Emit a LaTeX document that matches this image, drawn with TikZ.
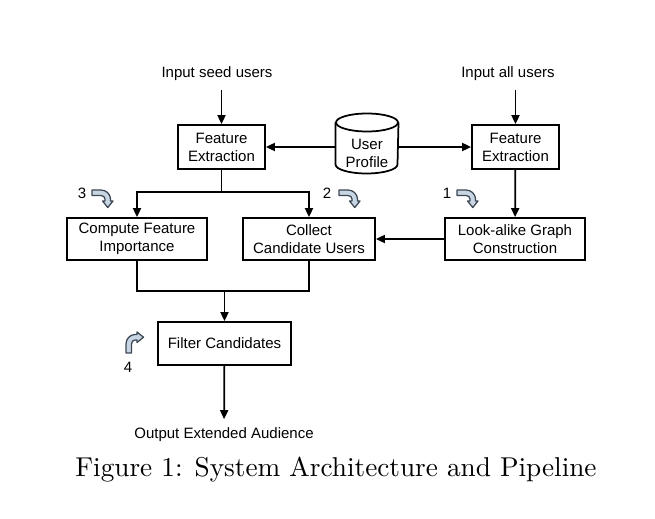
\documentclass[tikz,border=0pt]{standalone}
\usepackage{fontspec}
\newfontfamily\diagfont{Liberation Sans}
\usetikzlibrary{shapes.geometric, arrows.meta}
\definecolor{bendfill}{RGB}{200, 214, 228}
\definecolor{bendline}{RGB}{60, 70, 82}

\begin{document}
\begin{tikzpicture}[x=0.4pt, y=-0.4pt,
    font=\diagfont\fontsize{6}{7.2}\selectfont,
    box/.style={rectangle, draw, line width=0.7pt, align=center, inner sep=1pt},
    arr/.style={-{Triangle[length=3.6pt, width=3.2pt]}, line width=0.7pt},
    ln/.style={line width=0.7pt},
    bendarrow/.pic={
      \filldraw[fill=bendfill, draw=bendline, line width=0.5pt, line join=round]
        (0,0) -- (9,0) .. controls (14,0) and (18.5,4) .. (18.5,9) -- (18.5,11)
        -- (21,11) -- (15.75,17.5) -- (10.5,11) -- (13,11) -- (13,9)
        .. controls (13,7) and (11.2,5.5) .. (9,5.5) -- (0,5.5) -- cycle;
    }]
    \useasboundingbox (0,0) rectangle (655,519);

    % Inputs
    \node (seed) at (217,74) {Input seed users};
    \node (all) at (508,74) {Input all users};

    % Top row
    \node[box, minimum width=34.8pt, minimum height=17.6pt] (fe1) at (221.5,147) {Feature\\Extraction};
    \node[box, minimum width=34.8pt, minimum height=17.6pt] (fe2) at (515.5,147) {Feature\\Extraction};
    \node[minimum width=24.8pt, minimum height=23.6pt, inner sep=0pt,
          label={[align=center, yshift=-4pt]center:User\\Profile}]
          (prof) at (367,143.5) {};
    % cylinder outline of the profile store
    \draw[ln] ([yshift=-3.6pt]prof.north west) -- ([yshift=3.6pt]prof.south west)
      arc[start angle=180, end angle=360, x radius=12.4pt, y radius=3.6pt]
      -- ([yshift=-3.6pt]prof.north east);
    \draw[ln] ([yshift=-3.6pt]prof.north) ellipse[x radius=12.4pt, y radius=3.6pt];

    % Middle row
    \node[box, minimum width=56pt, minimum height=16.8pt] (cfi) at (137,239) {Compute Feature\\Importance};
    \node[box, minimum width=52.8pt, minimum height=16.8pt] (ccu) at (309,239) {Collect\\Candidate Users};
    \node[box, minimum width=56pt, minimum height=16.8pt] (lgc) at (515,239) {Look-alike Graph\\Construction};

    % Bottom
    \node[box, minimum width=53.2pt, minimum height=17.2pt] (filt) at (224.5,343.5) {Filter Candidates};
    \node (out) at (224,435) {Output Extended Audience};

    % Step numbers
    \node (n3) at (82,193) {3};
    \node (n2) at (327,193) {2};
    \node (n1) at (447,193) {1};
    \node (n4) at (128,367) {4};
    \pic at (92,190) {bendarrow};
    \pic at (339,190) {bendarrow};
    \pic at (457,190) {bendarrow};
    \pic[rotate=90] at (126,353) {bendarrow};

    % Junctions
    \coordinate (split) at (221.5,192);
    \coordinate (merge) at (224.5,291);

    % Arrows
    \draw[arr] (fe1 |- seed.south) -- (fe1);
    \draw[arr] (fe2 |- all.south) -- (fe2);
    \draw[arr] (prof.west |- fe1.east) -- (fe1.east);
    \draw[arr] (prof.east |- fe2.west) -- (fe2.west);
    \draw[ln] (fe1) -- (split);
    \draw[arr] (split) -| (cfi);
    \draw[arr] (split) -| (ccu);
    \draw[arr] (fe2) -- (lgc);
    \draw[arr] (lgc) -- (ccu);
    \draw[ln] (cfi) |- (merge);
    \draw[ln] (ccu) |- (merge);
    \draw[arr] (merge) -- (filt);
    \draw[arr] (filt) -- (out);

    % Caption
    \node (cap) at (336,470) {\rmfamily\fontsize{10.9}{13}\selectfont Figure 1: System Architecture and Pipeline};
\end{tikzpicture}
\end{document}
